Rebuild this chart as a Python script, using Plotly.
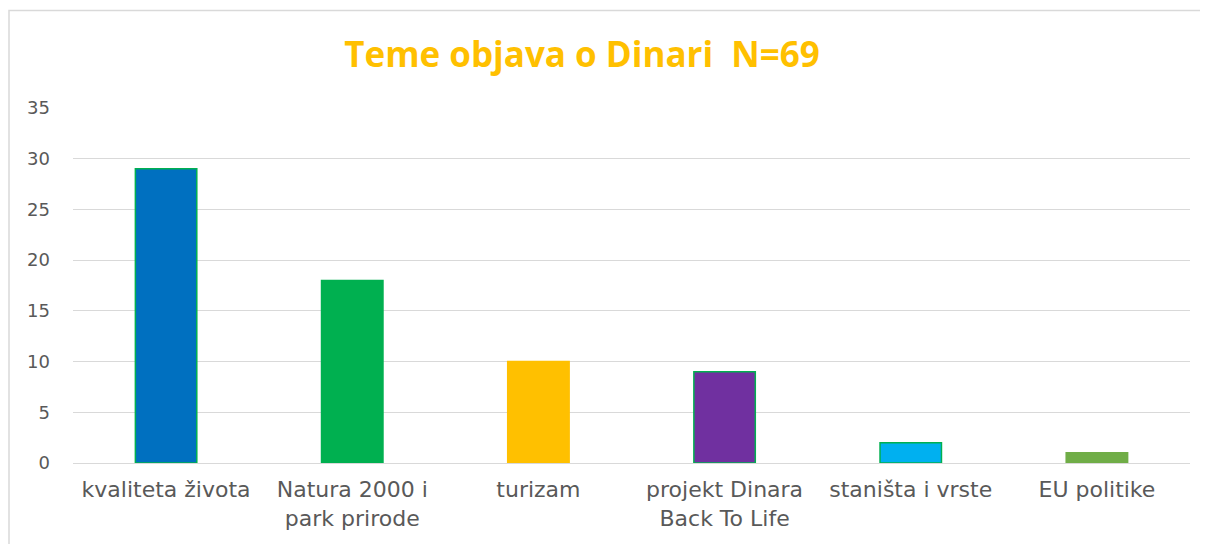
import plotly.graph_objects as go

categories = ["kvaliteta života", "Natura 2000 i<br>park prirode", "turizam",
              "projekt Dinara<br>Back To Life", "staništa i vrste", "EU politike"]
values = [29, 18, 10, 9, 2, 1]
colors = ["#0070C0", "#00B050", "#FFC000", "#7030A0", "#00B0F0", "#70AD47"]
outline = ["#00B050", "#00B050", "#FFC000", "#00B050", "#00B050", "#70AD47"]

OFF = 8  # page body margin
W, H = 1208 - OFF, 544 - OFF
ml, mr, mt, mb = 73 - OFF, 18, 108 - OFF, 81
pw, ph = W - ml - mr, H - mt - mb

fig = go.Figure(go.Bar(
    x=categories, y=values,
    marker=dict(color=colors, line=dict(color=outline, width=1.5)),
))

def px_x(p):
    return (p - OFF - ml) / pw

def px_y(p):
    return 1 - (p - OFF - mt) / ph

fig.update_layout(
    width=W, height=H,
    margin=dict(l=ml, r=mr, t=mt, b=mb),
    paper_bgcolor="white", plot_bgcolor="white",
    bargap=0.67,
    showlegend=False,
    font=dict(family="DejaVu Sans", color="#595959", size=18),
    title=dict(text="<b>Teme objava o Dinari\u00a0\u00a0N=69</b>",
               x=(582 - OFF) / W, xanchor="center", y=1 - (55 - OFF) / H, yanchor="middle",
               font=dict(family="Open Sans", size=35, color="#FFC000")),
    shapes=[dict(type="rect", xref="paper", yref="paper",
                 x0=px_x(9), x1=px_x(1230), y0=px_y(560), y1=px_y(10.5),
                 line=dict(color="#D9D9D9", width=1.5), layer="below")],
)
fig.update_yaxes(range=[0, 35], dtick=5, showgrid=True, gridcolor="#D9D9D9", gridwidth=1,
                 zeroline=True, zerolinecolor="#D9D9D9", zerolinewidth=1,
                 showline=False, ticks="", ticklabelstandoff=22,
                 tickfont=dict(size=18, color="#595959"))
fig.update_xaxes(showgrid=False, showline=False, ticks="",
                 tickfont=dict(size=22, color="#595959"), ticklabelstandoff=11)

fig.write_html("out.html")
